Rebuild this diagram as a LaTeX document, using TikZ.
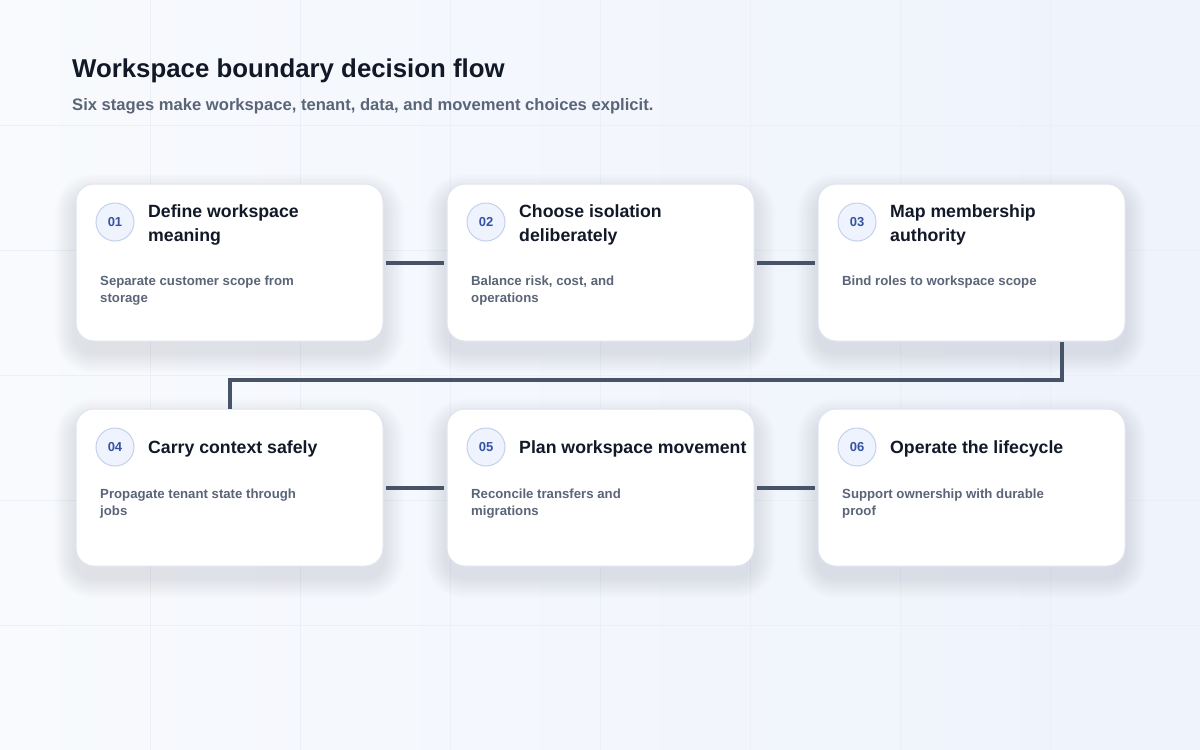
\documentclass[tikz,border=0pt]{standalone}
\usepackage{fontspec}
\setmainfont{Liberation Sans}
\usetikzlibrary{calc}
\definecolor{bgA}{HTML}{F8FAFD}
\definecolor{bgB}{HTML}{EEF3FC}
\definecolor{gridc}{HTML}{EBEFF6}
\definecolor{ink}{HTML}{111827}
\definecolor{muted}{HTML}{5B6578}
\definecolor{cardline}{HTML}{DFE5EF}
\definecolor{badgefill}{HTML}{EEF3FD}
\definecolor{badgeline}{HTML}{C3D1EC}
\definecolor{badgetext}{HTML}{3553A3}
\definecolor{connc}{HTML}{475467}
\definecolor{shadowc}{HTML}{7F8BAA}
\pgfdeclarelayer{bg}
\pgfdeclarelayer{shd}
\pgfsetlayers{bg,shd,main}
\begin{document}
\begin{tikzpicture}[x=1pt,y=-1pt,
  card/.style={draw=cardline, line width=1pt, fill=white, rounded corners=18pt,
    minimum width=307pt, minimum height=157pt, inner sep=0pt},
  badge/.style={circle, draw=badgeline, line width=1pt, fill=badgefill,
    minimum size=38pt, inner sep=0pt, text=badgetext,
    font=\fontsize{13}{15}\selectfont\bfseries},
  ctitle/.style={anchor=base west, inner sep=0pt, align=left, text=ink,
    font=\fontsize{17.7}{24}\selectfont\bfseries},
  cdesc/.style={anchor=base west, inner sep=0pt, align=left, text=muted,
    font=\fontsize{13.2}{17}\selectfont\bfseries},
  conn/.style={draw=connc, line width=4pt, line join=miter}]
\useasboundingbox (0,0) rectangle (1200,750);
\begin{pgfonlayer}{bg}
  \shade[left color=bgA, right color=bgB] (0,0) rectangle (1200,750);
  \foreach \gx in {150,300,...,1050} \draw[gridc, line width=1pt] (\gx,0) -- (\gx,750);
  \foreach \gy in {125,250,...,625} \draw[gridc, line width=1pt] (0,\gy) -- (1200,\gy);
\end{pgfonlayer}

% title
\node[anchor=base west, inner sep=0pt, text=ink, font=\fontsize{25.8}{30}\selectfont\bfseries]
  (title) at (72,77) {Workspace boundary decision flow};
\node[anchor=base west, inner sep=0pt, text=muted, font=\fontsize{16.6}{20}\selectfont\bfseries]
  (subtitle) at (72,110) {Six stages make workspace, tenant, data, and movement choices explicit.};

% cards
\node[card] (c1) at (229.5,262.5) {};
\node[card] (c2) at (600.5,262.5) {};
\node[card] (c3) at (971.5,262.5) {};
\node[card] (c4) at (229.5,487.5) {};
\node[card] (c5) at (600.5,487.5) {};
\node[card] (c6) at (971.5,487.5) {};

\begin{pgfonlayer}{shd}
  \foreach \c in {c1,c2,c3,c4,c5,c6}{
    \foreach \i in {1,...,12}{
      \pgfmathsetmacro{\ee}{\i*1.7}
      \pgfmathsetmacro{\rr}{18+\i*1.7}
      \fill[shadowc, opacity=0.016, rounded corners=\rr pt]
        ($(\c.north west)+(-\ee,11-\ee)$) rectangle ($(\c.south east)+(\ee,11+\ee)$);
    }
  }
\end{pgfonlayer}

% badges
\node[badge] (b1) at (115,222) {01};
\node[badge] (b2) at (486,222) {02};
\node[badge] (b3) at (857,222) {03};
\node[badge] (b4) at (115,447) {04};
\node[badge] (b5) at (486,447) {05};
\node[badge] (b6) at (857,447) {06};

% titles (base anchor = last line)
\node[ctitle] (t1) at (148,241.5) {Define workspace\\meaning};
\node[ctitle] (t2) at (519,241.5) {Choose isolation\\deliberately};
\node[ctitle] (t3) at (890,241.5) {Map membership\\authority};
\node[ctitle] (t4) at (148,453.5) {Carry context safely};
\node[ctitle] (t5) at (519,453.5) {Plan workspace movement};
\node[ctitle] (t6) at (890,453.5) {Operate the lifecycle};

% descriptions
\node[cdesc] (d1) at (100,302) {Separate customer scope from\\storage};
\node[cdesc] (d2) at (471,302) {Balance risk, cost, and\\operations};
\node[cdesc] (d3) at (842,285) {Bind roles to workspace scope};
\node[cdesc] (d4) at (100,515) {Propagate tenant state through\\jobs};
\node[cdesc] (d5) at (471,515) {Reconcile transfers and\\migrations};
\node[cdesc] (d6) at (842,515) {Support ownership with durable\\proof};

% connectors
\coordinate (k3) at ($(c3.south west)+(244,0)$);
\coordinate (mid) at (0,379.5);
\draw[conn] ($(c1.east)+(2,0)$) -- ($(c2.west)+(-3,0)$);
\draw[conn] ($(c2.east)+(2,0)$) -- ($(c3.west)+(-3,0)$);
\draw[conn] (k3) |- (c4.north |- mid) -- (c4.north);
\draw[conn] ($(c4.east)+(2,0)$) -- ($(c5.west)+(-3,0)$);
\draw[conn] ($(c5.east)+(2,0)$) -- ($(c6.west)+(-3,0)$);
\end{tikzpicture}
\end{document}
